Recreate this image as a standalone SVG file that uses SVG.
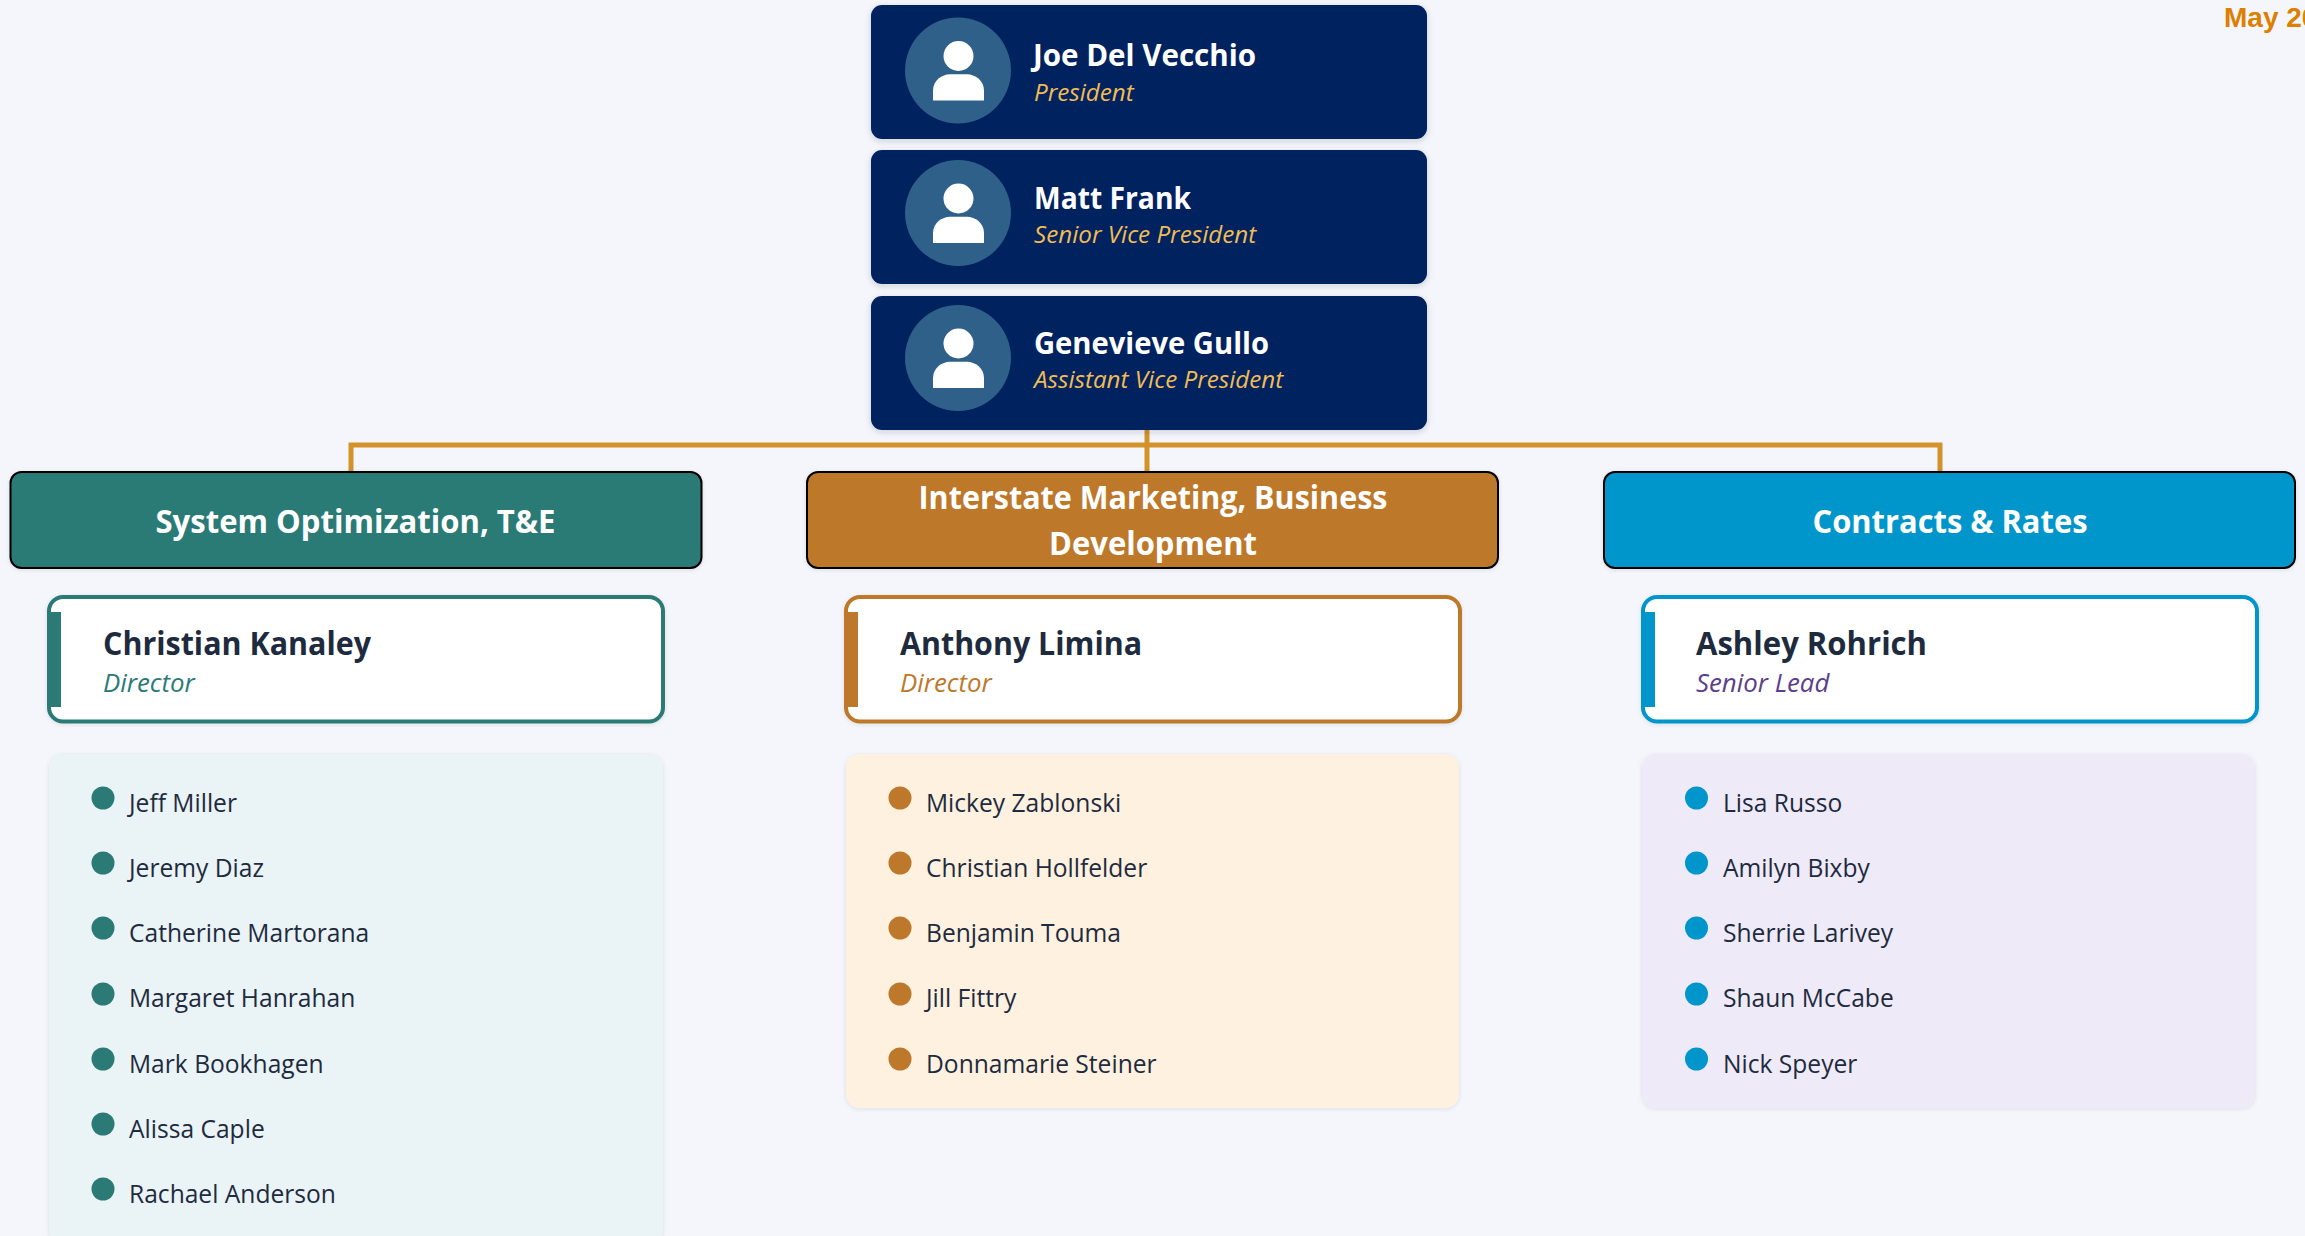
<svg xmlns="http://www.w3.org/2000/svg" width="2305" height="1236" viewBox="0 0 2305 1236">
<style>
text{font-family:"Open Sans","Noto Sans",sans-serif}
.exn{font-size:30px;font-weight:700;fill:#fff}
.exr{font-size:24.200px;font-style:italic;fill:#F2BC55}
.hd{font-size:33px;font-weight:700;fill:#fff;text-anchor:middle}
.ln{font-size:32px;font-weight:700;fill:#1E2B3E}
.lr{font-size:25.800px;font-style:italic}
.it{font-size:24.600px;fill:#1E2B3E}
.ex{fill:#00205F}
.av{fill:#2F6089}
.wire{fill:none;stroke:#D4922A;stroke-width:5}
.head{stroke:#000;stroke-width:2}
.card{fill:#fff;stroke-width:4}
.g{fill:#2C7A76}.o{fill:#BE782B}.b{fill:#0096CC}
.gs{stroke:#2C7A76}.os{stroke:#BE782B}.bs{stroke:#0096CC}
</style>
<defs>
<filter id="sh" x="-5%" y="-10%" width="110%" height="125%"><feDropShadow dx="0" dy="2" stdDeviation="3" flood-color="#1E2B3E" flood-opacity=".18"/></filter>
<filter id="sh2" x="-5%" y="-5%" width="110%" height="110%"><feDropShadow dx="0" dy="1" stdDeviation="2" flood-color="#1E2B3E" flood-opacity=".1"/></filter>
<g id="person"><circle class="av" cx="0" cy="0" r="53"/><circle cx="0.500" cy="-14.500" r="15" fill="#fff"/><path d="M-25 30V20C-25 10 -16 3.800 -8 3.800H9C17 3.800 26 10 26 20V30Z" fill="#fff"/></g>
</defs>
<rect width="2305" height="1236" fill="#F4F6FB"/>
<g id="connectors">
<path class="wire" d="M351 472V445H1940V472"/>
<path class="wire" d="M1147 430V472"/>
</g>
<g id="exec-joe"><rect class="ex" filter="url(#sh)" x="871" y="5" width="556" height="134" rx="11"/><use href="#person" x="958" y="70.500"/><text class="exn" x="1033" y="66" textLength="223" lengthAdjust="spacingAndGlyphs">Joe Del Vecchio</text><text class="exr" x="1034" y="101">President</text></g>
<g id="exec-matt"><rect class="ex" filter="url(#sh)" x="871" y="150" width="556" height="134" rx="11"/><use href="#person" x="958" y="213"/><text class="exn" x="1034" y="209" textLength="157" lengthAdjust="spacingAndGlyphs">Matt Frank</text><text class="exr" x="1034" y="243">Senior Vice President</text></g>
<g id="exec-genevieve"><rect class="ex" filter="url(#sh)" x="871" y="296" width="556" height="134" rx="11"/><use href="#person" x="958" y="358"/><text class="exn" x="1034" y="354" textLength="235" lengthAdjust="spacingAndGlyphs">Genevieve Gullo</text><text class="exr" x="1034" y="388">Assistant Vice President</text></g>

<g id="dept-system"><rect class="g head" filter="url(#sh2)" x="10.500" y="472" width="691" height="96" rx="11"/><text class="hd" x="355.500" y="533" textLength="400" lengthAdjust="spacingAndGlyphs">System Optimization, T&amp;E</text></g>
<g id="dept-interstate"><rect class="o head" filter="url(#sh2)" x="807" y="472" width="691" height="96" rx="11"/><text class="hd" x="1153" y="509" textLength="469" lengthAdjust="spacingAndGlyphs">Interstate Marketing, Business</text><text class="hd" x="1153" y="555" textLength="208" lengthAdjust="spacingAndGlyphs">Development</text></g>
<g id="dept-contracts"><rect class="b head" filter="url(#sh2)" x="1604" y="472" width="691" height="96" rx="11"/><text class="hd" x="1950" y="533" textLength="275" lengthAdjust="spacingAndGlyphs">Contracts &amp; Rates</text></g>

<g id="lead-christian"><rect class="card gs" filter="url(#sh2)" x="49" y="597" width="614" height="124.500" rx="14"/><rect class="g" x="47" y="612" width="14" height="95"/><text class="ln" x="103" y="655" textLength="268" lengthAdjust="spacingAndGlyphs">Christian Kanaley</text><text class="lr g" x="103" y="692">Director</text></g>
<g id="lead-anthony"><rect class="card os" filter="url(#sh2)" x="846" y="597" width="614" height="124.500" rx="14"/><rect class="o" x="844" y="612" width="14" height="95"/><text class="ln" x="900" y="655" textLength="242" lengthAdjust="spacingAndGlyphs">Anthony Limina</text><text class="lr o" x="900" y="692">Director</text></g>
<g id="lead-ashley"><rect class="card bs" filter="url(#sh2)" x="1643" y="597" width="614" height="124.500" rx="14"/><rect class="b" x="1641" y="612" width="14" height="95"/><text class="ln" x="1696" y="655" textLength="231" lengthAdjust="spacingAndGlyphs">Ashley Rohrich</text><text class="lr" fill="#5B3E8C" x="1696" y="692">Senior Lead</text></g>

<g id="team-system"><rect filter="url(#sh2)" fill="#EAF3F5" x="49" y="754" width="614" height="490" rx="14"/>
<g class="g"><circle cx="103" cy="798" r="11.500"/><circle cx="103" cy="863" r="11.500"/><circle cx="103" cy="928" r="11.500"/><circle cx="103" cy="994" r="11.500"/><circle cx="103" cy="1059" r="11.500"/><circle cx="103" cy="1124" r="11.500"/><circle cx="103" cy="1189" r="11.500"/></g>
<text class="it" x="129" y="812">Jeff Miller</text><text class="it" x="129" y="877">Jeremy Diaz</text><text class="it" x="129" y="942">Catherine Martorana</text><text class="it" x="129" y="1007">Margaret Hanrahan</text><text class="it" x="129" y="1073">Mark Bookhagen</text><text class="it" x="129" y="1138">Alissa Caple</text><text class="it" x="129" y="1203">Rachael Anderson</text></g>

<g id="team-interstate"><rect filter="url(#sh2)" fill="#FEF1DF" x="846" y="754" width="613" height="354" rx="14"/>
<g class="o"><circle cx="900" cy="798" r="11.500"/><circle cx="900" cy="863" r="11.500"/><circle cx="900" cy="928" r="11.500"/><circle cx="900" cy="994" r="11.500"/><circle cx="900" cy="1059" r="11.500"/></g>
<text class="it" x="926" y="812">Mickey Zablonski</text><text class="it" x="926" y="877">Christian Hollfelder</text><text class="it" x="926" y="942">Benjamin Touma</text><text class="it" x="926" y="1007">Jill Fittry</text><text class="it" x="926" y="1073">Donnamarie Steiner</text></g>

<g id="team-contracts"><rect filter="url(#sh2)" fill="#EFEAF8" x="1642" y="754" width="613" height="354" rx="14"/>
<g class="b"><circle cx="1696.500" cy="798" r="11.500"/><circle cx="1696.500" cy="863" r="11.500"/><circle cx="1696.500" cy="928" r="11.500"/><circle cx="1696.500" cy="994" r="11.500"/><circle cx="1696.500" cy="1059" r="11.500"/></g>
<text class="it" x="1723" y="812">Lisa Russo</text><text class="it" x="1723" y="877">Amilyn Bixby</text><text class="it" x="1723" y="942">Sherrie Larivey</text><text class="it" x="1723" y="1007">Shaun McCabe</text><text class="it" x="1723" y="1073">Nick Speyer</text></g>

<text id="date" x="2224" y="27" fill="#DD7F00" style="font-family:'Liberation Sans',Arial,sans-serif;font-size:28px;font-weight:700">May 20</text>
</svg>
